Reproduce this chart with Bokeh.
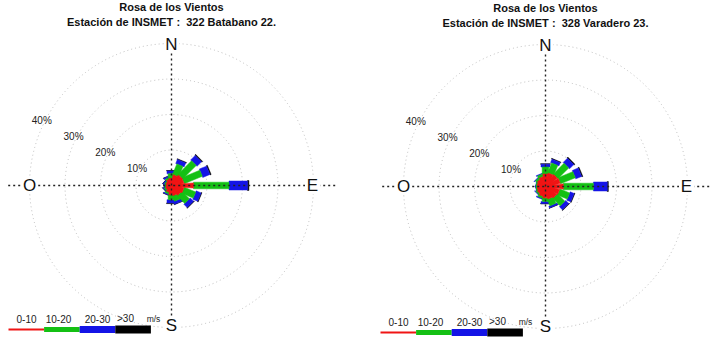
import numpy as np
from bokeh.plotting import figure
from bokeh.models import Range1d
from bokeh.embed import file_html
from bokeh.resources import INLINE
from bokeh.core.properties import value

# ---------------- data ----------------
directions = ["N", "NNE", "NE", "ENE", "E", "ESE", "SE", "SSE",
              "S", "SSW", "SW", "WSW", "W", "WNW", "NW", "NNW"]
speed_classes = ["0-10", "10-20", "20-30", ">30"]
speed_unit = "m/s"
ring_levels = [10, 20, 30, 40]
ring_labels = ["10%", "20%", "30%", "40%"]
compass_labels = ["N", "E", "S", "O"]

title_line1 = "Rosa de los Vientos"
station_left = "Estación de INSMET :\u00a0 322 Batabano 22."
station_right = "Estación de INSMET :\u00a0 328 Varadero 23."

# Batabano: frequency (%) per direction for each speed class
bat_0_10 = [2.0, 3.0, 3.5, 3.5, 6.2, 3.5, 3.2, 2.8, 2.6, 2.0, 1.6, 1.4, 1.3, 1.3, 1.5, 1.8]
bat_10_20 = [1.3, 3.2, 5.4, 5.5, 10.0, 3.5, 3.0, 1.6, 1.4, 0.5, 0.4, 0.3, 0.2, 0.2, 0.3, 0.5]
bat_20_30 = [0.8, 1.2, 1.8, 2.2, 5.2, 1.5, 1.3, 0.8, 0.9, 0.3, 0.2, 0.2, 0.2, 0.2, 0.3, 0.4]
bat_gt30 = [0.1, 0.2, 0.3, 0.3, 0.4, 0.2, 0.2, 0.1, 0.2, 0.1, 0.1, 0.1, 0.1, 0.1, 0.1, 0.1]

# Varadero
var_0_10 = [3.5, 3.8, 4.0, 4.2, 5.0, 4.0, 3.8, 3.5, 3.2, 2.8, 2.5, 2.3, 2.2, 2.3, 2.5, 2.8]
var_10_20 = [2.0, 3.0, 4.3, 4.5, 8.5, 3.0, 3.0, 2.0, 1.0, 0.6, 0.4, 0.3, 0.3, 0.3, 0.6, 0.8]
var_20_30 = [0.8, 1.0, 1.7, 1.8, 3.9, 1.2, 1.2, 0.5, 0.6, 0.3, 0.2, 0.1, 0.1, 0.1, 0.2, 0.2]
var_gt30 = [0.1, 0.2, 0.3, 0.3, 0.3, 0.2, 0.2, 0.1, 0.1, 0.0, 0.0, 0.0, 0.0, 0.0, 0.0, 0.0]

# ---------------- styling ----------------
class_colors = ["#f01414", "#14c014", "#1414e6", "#000000"]
# half widths (px) of each class petal: (inner, outer)
class_halfw = [(1.0, 2.6), (3.3, 3.3), (4.5, 4.5), (5.0, 5.0)]
legend_thick = [2, 5, 7, 8]

K = 142.0 / 40.0  # px per percent
FONT = value("Liberation Sans")

p = figure(width=715, height=346, x_range=Range1d(0, 715), y_range=Range1d(346, 0),
           output_backend="svg", toolbar_location=None,
           x_axis_type=None, y_axis_type=None, min_border=0,
           outline_line_color=None, background_fill_color="white",
           border_fill_color="white")


def petal_polys(cx, cy, classes):
    """Return per-class polygons for stacked petals."""
    out = [([], []) for _ in classes]
    n = len(directions)
    for i in range(n):
        th = np.deg2rad(360.0 * i / n)
        ux, uy = np.sin(th), -np.cos(th)
        vx, vy = np.cos(th), np.sin(th)
        r0 = 0.0
        for c, arr in enumerate(classes):
            r1 = r0 + arr[i] * K
            if arr[i] > 0:
                w0, w1 = class_halfw[c]
                xs = [cx + r0 * ux + w0 * vx, cx + r1 * ux + w1 * vx,
                      cx + r1 * ux - w1 * vx, cx + r0 * ux - w0 * vx]
                ys = [cy + r0 * uy + w0 * vy, cy + r1 * uy + w1 * vy,
                      cy + r1 * uy - w1 * vy, cy + r0 * uy - w0 * vy]
                out[c][0].append(xs)
                out[c][1].append(ys)
            r0 = r1
    return out


def draw_rose(cx, cy, title_y, title2, classes, leg_x, leg_y):
    R = K * ring_levels[-1]
    # rings
    p.circle(x=[cx] * len(ring_levels), y=[cy] * len(ring_levels),
             radius=[K * l for l in ring_levels], fill_color=None,
             line_color="#bdbdbd", line_dash="1 3", line_width=1)
    # petals (outer classes first so red sits on top)
    polys = petal_polys(cx, cy, classes)
    for c in [3, 2, 1, 0]:
        xs, ys = polys[c]
        if xs:
            p.patches(xs, ys, fill_color=class_colors[c], line_color=class_colors[c],
                      line_width=0.5)
    # cross axes
    p.segment(x0=[cx - 1.15 * R, cx], y0=[cy, cy - R], x1=[cx + 1.16 * R, cx], y1=[cy, cy + R],
              line_color="#222222", line_dash="2 3", line_width=1.4)
    # compass letters
    lx = [cx, cx + R - 1, cx, cx - R]
    ly = [cy - R + 0.5, cy, cy + R - 2, cy]
    p.rect(x=lx, y=ly, width=15, height=17, fill_color="white", line_color=None)
    p.text(x=lx, y=ly, text=compass_labels, text_font=FONT, text_font_size="17px",
           text_align="center", text_baseline="middle", text_color="#111111")
    # ring labels
    ang = np.arctan2(0.5, 1.0)
    rx = [cx - (K * l + 3) * np.cos(ang) for l in ring_levels]
    ry = [cy - (K * l + 3) * np.sin(ang) for l in ring_levels]
    p.text(x=rx, y=ry, text=ring_labels, text_font=FONT, text_font_size="10px",
           text_align="center", text_baseline="middle", text_color="#222222")
    # titles
    p.text(x=[cx, cx], y=[title_y, title_y + 14.5], text=[title_line1, title2],
           text_font=FONT, text_font_size="11px", text_font_style="bold",
           text_align="center", text_baseline="middle", text_color="#111111")
    # legend
    seg = 35.6
    for c in range(4):
        p.segment(x0=[leg_x + c * seg], y0=[leg_y], x1=[leg_x + (c + 1) * seg], y1=[leg_y],
                  line_color=class_colors[c], line_width=legend_thick[c], line_cap="butt")
    offs = [18, 50, 89, 117]
    p.text(x=[leg_x + o for o in offs], y=[leg_y - 11] * 4, text=speed_classes,
           text_font=FONT, text_font_size="10px", text_align="center",
           text_baseline="middle", text_color="#222222")
    p.text(x=[leg_x + 145], y=[leg_y - 11], text=[speed_unit], text_font=FONT,
           text_font_size="8.5px", text_align="center", text_baseline="middle",
           text_color="#222222")


draw_rose(171, 185, 6.5, station_left,
          [bat_0_10, bat_10_20, bat_20_30, bat_gt30], 8, 329)
draw_rose(545, 186, 7.5, station_right,
          [var_0_10, var_10_20, var_20_30, var_gt30], 380, 332)

open("out.html", "w").write(file_html(p, INLINE))
